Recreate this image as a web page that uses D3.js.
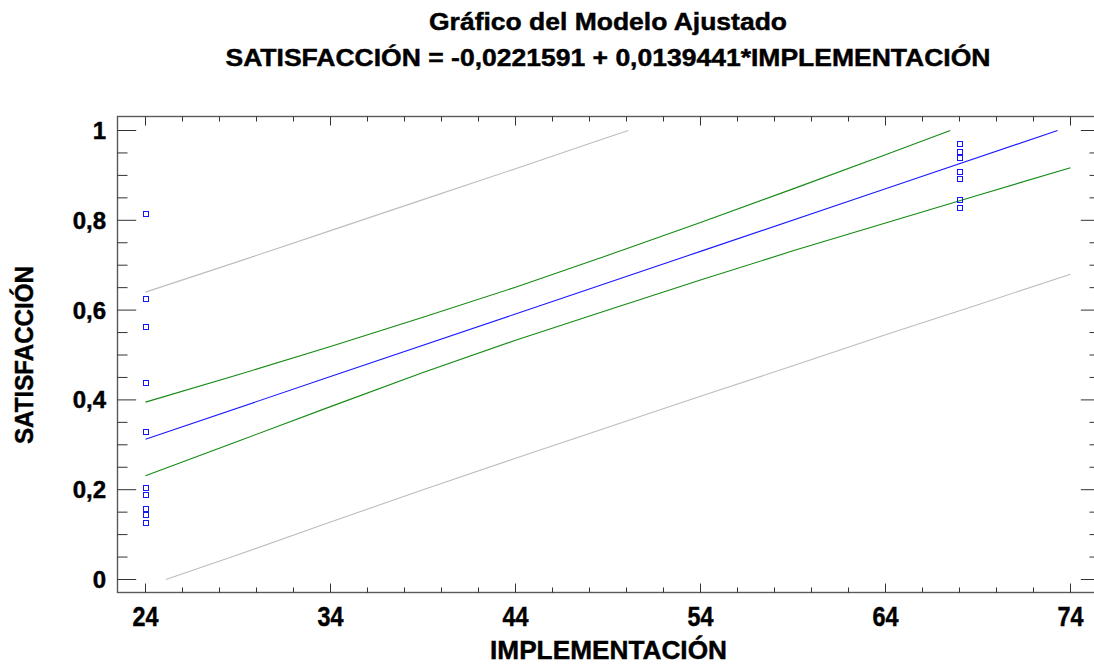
<!DOCTYPE html>
<html>
<head>
<meta charset="utf-8">
<script src="https://cdn.jsdelivr.net/npm/d3@7"></script>
<style>
  body { margin: 0; background: #fff; }
  svg { display: block; font-family: "Liberation Sans", Arial, sans-serif; font-weight: bold; }
  text { fill: #000; stroke: #000; stroke-width: 0.45px; }
</style>
</head>
<body>
<svg id="chart" width="1094" height="664"></svg>
<script>
// titles
var titleLines = ["Gráfico del Modelo Ajustado", "SATISFACCIÓN = -0,0221591 + 0,0139441*IMPLEMENTACIÓN"];
var xTitle = "IMPLEMENTACIÓN";
var yTitle = "SATISFACCIÓN";

// tick labels
var xTicks = [24, 34, 44, 54, 64, 74];
var yTicks = [0, 0.2, 0.4, 0.6, 0.8, 1];

// observed points
var ptX = [24, 24, 24, 24, 24, 24, 24, 24, 24, 24, 68, 68, 68, 68, 68, 68, 68];
var ptY = [0.814, 0.625, 0.563, 0.438, 0.328, 0.204, 0.188, 0.157, 0.143, 0.126,
           0.970, 0.953, 0.938, 0.908, 0.891, 0.846, 0.828];

// fitted line
var fitX = [24, 34, 44, 54, 64, 73.3];
var fitY = [0.3125, 0.4519, 0.5914, 0.7308, 0.8703, 1.0];

// confidence limits (green)
var confUpX = [24, 29, 34, 39, 44, 49, 54, 59, 64, 67.5];
var confUpY = [0.395, 0.456, 0.519, 0.584, 0.651, 0.722, 0.795, 0.870, 0.946, 1.0];
var confLoX = [24, 29, 34, 39, 44, 49, 54, 59, 64, 69, 74];
var confLoY = [0.231, 0.308, 0.385, 0.461, 0.533, 0.600, 0.667, 0.732, 0.794, 0.856, 0.917];

// prediction limits (gray)
var predUpX = [24, 29, 34, 39, 44, 49, 50.1];
var predUpY = [0.640, 0.708, 0.777, 0.846, 0.915, 0.985, 1.0];
var predLoX = [25.1, 29, 34, 39, 44, 49, 54, 59, 64, 69, 74];
var predLoY = [0, 0.055, 0.128, 0.200, 0.270, 0.339, 0.408, 0.476, 0.545, 0.612, 0.680];

var svg = d3.select("#chart");

// plot frame (right edge falls just outside the picture)
var frame = {left: 117.5, top: 116.5, right: 1099.5, bottom: 592.5};

var x = d3.scaleLinear().domain([24, 74]).range([145.5, 1070.5]);
var y = d3.scaleLinear().domain([0, 1]).range([579.5, 130.5]);

// frame
svg.append("rect")
    .attr("x", frame.left)
    .attr("y", frame.top)
    .attr("width", frame.right - frame.left)
    .attr("height", frame.bottom - frame.top)
    .attr("fill", "none")
    .attr("stroke", "#5a5a5a")
    .attr("stroke-width", 1.4);

// x ticks, top and bottom
var xMinor = d3.range(24, 75, 2);
svg.selectAll("xTick")
    .data(xMinor)
    .enter()
    .append("g")
    .each(function(d) {
        var len = xTicks.indexOf(d) >= 0 ? 9 : 5;
        var g = d3.select(this);
        g.append("line").attr("x1", x(d)).attr("x2", x(d))
            .attr("y1", frame.top).attr("y2", frame.top + len);
        g.append("line").attr("x1", x(d)).attr("x2", x(d))
            .attr("y1", frame.bottom).attr("y2", frame.bottom - len);
    })
    .attr("stroke", "#333")
    .attr("stroke-width", 1);

// y ticks, left and right
var yMinor = d3.range(0, 21).map(function(i){ return i * 0.05; });
svg.selectAll("yTick")
    .data(yMinor)
    .enter()
    .append("g")
    .each(function(d, i) {
        var len = i % 4 == 0 ? 18.7 : 10;
        var g = d3.select(this);
        g.append("line").attr("x1", frame.left).attr("x2", frame.left + len)
            .attr("y1", y(d)).attr("y2", y(d));
        g.append("line").attr("x1", frame.right).attr("x2", frame.right - len)
            .attr("y1", y(d)).attr("y2", y(d));
    })
    .attr("stroke", "#333")
    .attr("stroke-width", 1);

// tick labels
svg.selectAll("xLabel")
    .data(xTicks)
    .enter()
    .append("text")
    .attr("x", function(d){ return x(d); })
    .attr("y", 626)
    .attr("text-anchor", "middle")
    .attr("font-size", 27)
    .attr("textLength", 26)
    .attr("lengthAdjust", "spacingAndGlyphs")
    .text(function(d){ return d; });

svg.selectAll("yLabel")
    .data(yTicks)
    .enter()
    .append("text")
    .attr("x", 106)
    .attr("y", function(d){ return y(d) + 8.5; })
    .attr("text-anchor", "end")
    .attr("font-size", 24)
    .text(function(d){ return d3.format(".1f")(d).replace(".", ",").replace(/,0$/, ""); });

// titles
svg.selectAll("title")
    .data(titleLines)
    .enter()
    .append("text")
    .attr("x", 608)
    .attr("y", function(d, i){ return 30 + 36 * i; })
    .attr("text-anchor", "middle")
    .attr("font-size", 23.5)
    .attr("textLength", function(d, i){ return i == 0 ? 358 : 765; })
    .attr("lengthAdjust", "spacingAndGlyphs")
    .text(function(d){ return d; });

svg.append("text")
    .attr("x", 608.5)
    .attr("y", 659)
    .attr("text-anchor", "middle")
    .attr("font-size", 26.5)
    .attr("textLength", 237)
    .attr("lengthAdjust", "spacingAndGlyphs")
    .text(xTitle);

svg.append("text")
    .attr("transform", "translate(33.3,355) rotate(-90)")
    .attr("text-anchor", "middle")
    .attr("font-size", 25)
    .attr("textLength", 178)
    .attr("lengthAdjust", "spacingAndGlyphs")
    .text(yTitle);

// curves
var line = d3.line()
    .x(function(d){ return x(d[0]); })
    .y(function(d){ return y(d[1]); });

var curves = [
    {xs: predUpX, ys: predUpY, color: "#bdbdbd"},
    {xs: predLoX, ys: predLoY, color: "#bdbdbd"},
    {xs: confUpX, ys: confUpY, color: "#138a13"},
    {xs: confLoX, ys: confLoY, color: "#138a13"},
    {xs: fitX, ys: fitY, color: "#1a1aff"}
];

svg.selectAll("curve")
    .data(curves)
    .enter()
    .append("path")
    .attr("d", function(c){ return line(d3.zip(c.xs, c.ys)); })
    .attr("fill", "none")
    .attr("stroke", function(c){ return c.color; })
    .attr("stroke-width", 1.1);

// points
svg.selectAll("pt")
    .data(d3.zip(ptX, ptY))
    .enter()
    .append("rect")
    .attr("x", function(d){ return Math.round(x(d[0])) - 2.5; })
    .attr("y", function(d){ return Math.round(y(d[1])) - 2.5; })
    .attr("width", 5)
    .attr("height", 5)
    .attr("fill", "none")
    .attr("stroke", "#1414ff")
    .attr("stroke-width", 1);
</script>
</body>
</html>
